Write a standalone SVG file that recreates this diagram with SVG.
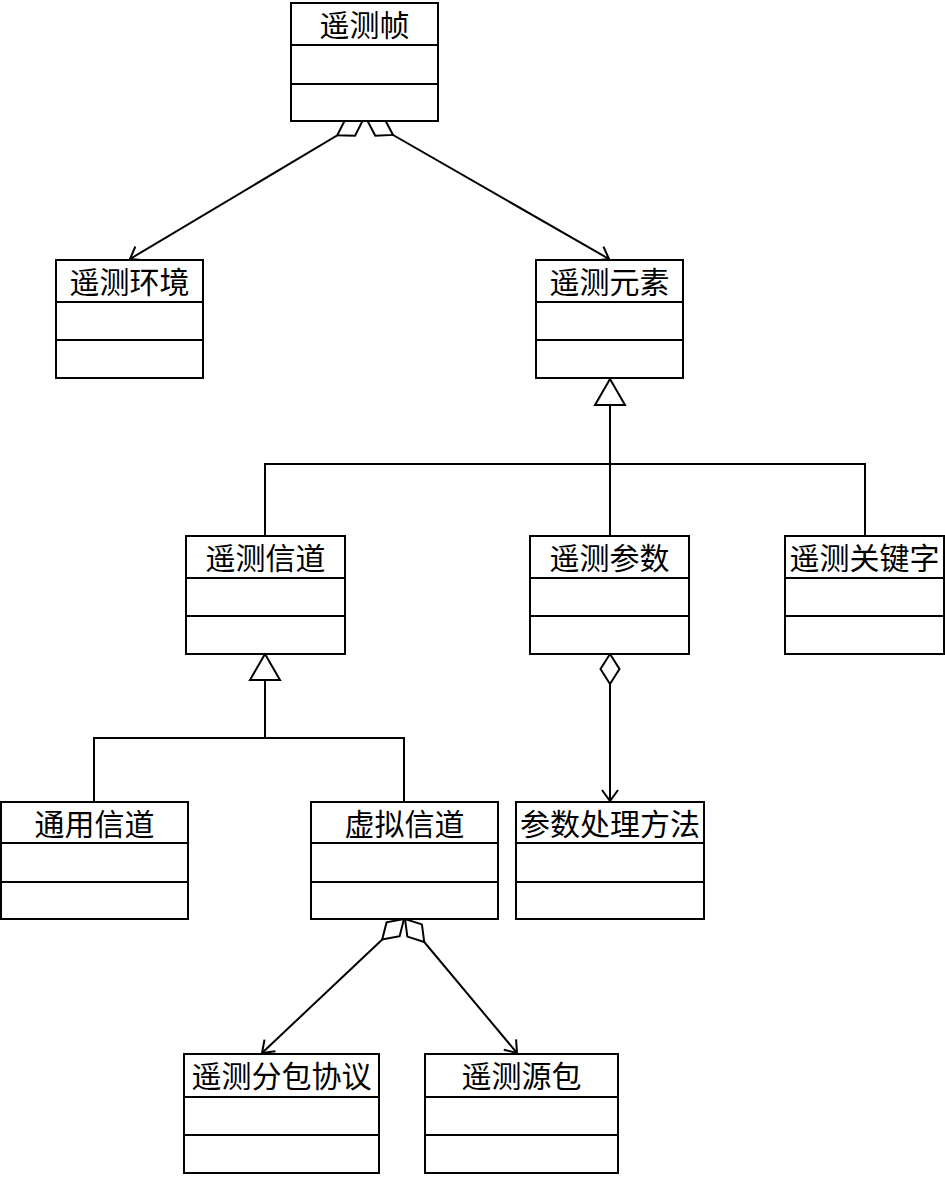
<svg xmlns="http://www.w3.org/2000/svg" width="945" height="1177" viewBox="0 0 945 1177">
<style>
.box{fill:#fff;stroke:#000;stroke-width:2}
.div{stroke:#000;stroke-width:2;fill:none}
.lbl{font-family:"Noto Sans CJK SC","Noto Sans CJK JP",sans-serif;font-size:30px;fill:#000;text-anchor:middle}
.con{stroke:#000;stroke-width:2;fill:none}
</style>
<defs>
<marker id="open" markerUnits="userSpaceOnUse" markerWidth="30" markerHeight="30" refX="0" refY="0" viewBox="-15 -15 30 30" orient="auto" overflow="visible">
<path d="M-11,-8 L0,0 L-11,8" fill="none" stroke="#000" stroke-width="2"/>
</marker>
<marker id="diamond" markerUnits="userSpaceOnUse" markerWidth="40" markerHeight="40" refX="0" refY="0" viewBox="-5 -20 40 40" orient="auto" overflow="visible">
<path d="M0,0 L15,-9.5 L30,0 L15,9.5 Z" fill="#fff" stroke="#000" stroke-width="2"/>
</marker>
<marker id="tri" markerUnits="userSpaceOnUse" markerWidth="40" markerHeight="40" refX="0" refY="0" viewBox="-35 -20 40 40" orient="auto" overflow="visible">
<path d="M0,0 L-26,-15 L-26,15 Z" fill="#fff" stroke="#000" stroke-width="2"/>
</marker>
</defs>
<g id="connectors">
<path class="con" d="M363,120 L130,259" marker-start="url(#diamond)" marker-end="url(#open)"/>
<path class="con" d="M367,120 L609,259" marker-start="url(#diamond)" marker-end="url(#open)"/>
<path class="con" d="M404,919 L262,1053" marker-start="url(#diamond)" marker-end="url(#open)"/>
<path class="con" d="M405,919 L517,1053" marker-start="url(#diamond)" marker-end="url(#open)"/>
<path class="con" d="M610,654 L610,801" marker-start="url(#diamond)" marker-end="url(#open)"/>
<path class="con" d="M265,536 V464 H865 V536"/>
<path class="con" d="M610,536 V379" marker-end="url(#tri)"/>
<path class="con" d="M94,802 V738 H404 V802"/>
<path class="con" d="M265,738 V654" marker-end="url(#tri)"/>
</g>
<g id="n_frame">
<rect class="box" x="291" y="3" width="147" height="118"/>
<path class="div" d="M291,45 H438 M291,84 H438"/>
<text class="lbl" x="364.5" y="36">遥测帧</text>
</g>
<g id="n_env">
<rect class="box" x="56" y="260" width="147" height="118"/>
<path class="div" d="M56,302 H203 M56,340 H203"/>
<text class="lbl" x="129.5" y="293">遥测环境</text>
</g>
<g id="n_elem">
<rect class="box" x="536" y="260" width="147" height="118"/>
<path class="div" d="M536,302 H683 M536,340 H683"/>
<text class="lbl" x="609.5" y="293">遥测元素</text>
</g>
<g id="n_channel">
<rect class="box" x="186" y="536" width="159" height="118"/>
<path class="div" d="M186,578 H345 M186,616 H345"/>
<text class="lbl" x="265.5" y="569">遥测信道</text>
</g>
<g id="n_param">
<rect class="box" x="530" y="536" width="159" height="118"/>
<path class="div" d="M530,578 H689 M530,616 H689"/>
<text class="lbl" x="609.5" y="569">遥测参数</text>
</g>
<g id="n_keyword">
<rect class="box" x="785" y="536" width="159" height="118"/>
<path class="div" d="M785,578 H944 M785,616 H944"/>
<text class="lbl" x="864.5" y="569">遥测关键字</text>
</g>
<g id="n_general">
<rect class="box" x="1" y="802" width="187" height="117"/>
<path class="div" d="M1,843 H188 M1,882 H188"/>
<text class="lbl" x="94.5" y="835">通用信道</text>
</g>
<g id="n_virtual">
<rect class="box" x="311" y="802" width="187" height="117"/>
<path class="div" d="M311,843 H498 M311,882 H498"/>
<text class="lbl" x="404.5" y="835">虚拟信道</text>
</g>
<g id="n_method">
<rect class="box" x="516" y="802" width="188" height="117"/>
<path class="div" d="M516,843 H704 M516,882 H704"/>
<text class="lbl" x="610" y="835">参数处理方法</text>
</g>
<g id="n_protocol">
<rect class="box" x="184" y="1054" width="195" height="119"/>
<path class="div" d="M184,1097 H379 M184,1135 H379"/>
<text class="lbl" x="281.5" y="1087">遥测分包协议</text>
</g>
<g id="n_source">
<rect class="box" x="425" y="1054" width="193" height="119"/>
<path class="div" d="M425,1097 H618 M425,1135 H618"/>
<text class="lbl" x="521.5" y="1087">遥测源包</text>
</g>
</svg>
